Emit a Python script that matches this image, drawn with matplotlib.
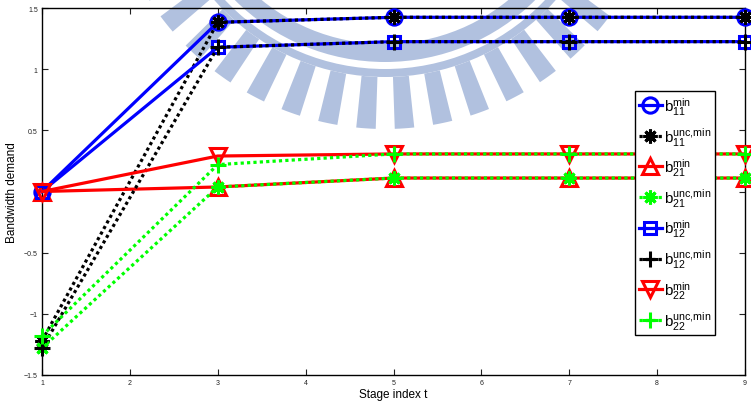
import matplotlib
matplotlib.use("Agg")
import matplotlib.pyplot as plt
from matplotlib.patches import Wedge

plt.rcParams['font.family'] = ['Liberation Sans', 'DejaVu Sans']
plt.rcParams['mathtext.default'] = 'regular'

# stage index
t = [1, 3, 5, 7, 9]

# bandwidth demand per series
b11_min = [0.0, 1.383, 1.424, 1.424, 1.424]
b11_unc = [-1.22, 1.383, 1.424, 1.424, 1.424]
b21_min = [0.0, 0.037, 0.11, 0.11, 0.11]
b21_unc = [-1.28, 0.037, 0.11, 0.11, 0.11]
b12_min = [0.0, 1.179, 1.225, 1.225, 1.225]
b12_unc = [-1.28, 1.179, 1.225, 1.225, 1.225]
b22_min = [0.0, 0.29, 0.307, 0.307, 0.307]
b22_unc = [-1.18, 0.22, 0.307, 0.307, 0.307]

labels = [r'$b_{11}^{min}$', r'$b_{11}^{unc{,}min}$', r'$b_{21}^{min}$', r'$b_{21}^{unc{,}min}$',
          r'$b_{12}^{min}$', r'$b_{12}^{unc{,}min}$', r'$b_{22}^{min}$', r'$b_{22}^{unc{,}min}$']

fig = plt.figure(figsize=(7.51, 4.06), dpi=100)

# faint logo watermark behind the plot
bg = fig.add_axes([0, 0, 1, 1], zorder=0)
bg.set_xlim(0, 751)
bg.set_ylim(0, 406)
bg.axis('off')
wm = '#b1c1df'
c = (385, 556)
bg.add_patch(Wedge(c, 213, 180, 360, width=18, color=wm, lw=0))
bg.add_patch(Wedge(c, 228, 180, 360, width=8, color=wm, lw=0))
a = 274 - 7.9 * 12
while a < 360:
    bg.add_patch(Wedge(c, 280, a - 2.0, a + 2.0, width=52, color=wm, lw=0))
    a += 7.9

ax = fig.add_axes([42 / 751, 30 / 406, 703 / 751, 367 / 406], zorder=1)
ax.set_facecolor('none')

lw = 2.3
series = [
    (b11_min, dict(color='#0000ff', ls='-', marker='o', mfc='none', ms=11)),
    (b11_unc, dict(color='black', ls=':', marker=(8, 2, 0), ms=10)),
    (b21_min, dict(color='#ff0000', ls='-', marker='^', mfc='none', ms=12)),
    (b21_unc, dict(color='#00ff00', ls=':', marker=(8, 2, 0), ms=10)),
    (b12_min, dict(color='#0000ff', ls='-', marker='s', mfc='none', ms=8.5)),
    (b12_unc, dict(color='black', ls=':', marker='+', ms=11)),
    (b22_min, dict(color='#ff0000', ls='-', marker='v', mfc='none', ms=12)),
    (b22_unc, dict(color='#00ff00', ls=':', marker='+', ms=11)),
]
for (vals, kw), lab in zip(series, labels):
    line, = ax.plot(t, vals, lw=lw, mew=2.2, label=lab, clip_on=False, zorder=3, **kw)
    if kw['ls'] == ':':
        line.set_dashes([1, 1])
        line.set_dash_capstyle('butt')

ax.set_xlim(1, 9)
ax.set_ylim(-1.5, 1.5)
ax.set_xticks(range(1, 10))
ax.set_yticks([-1.5, -1, -0.5, 0, 0.5, 1, 1.5])
ax.set_yticklabels(['\u22121.5', '\u22121', '\u22120.5', '0', '0.5', '1', '1.5'])
ax.tick_params(direction='in', length=4, width=0.8, top=True, right=True,
               labelsize=5, colors='#222222', pad=3)
for s in ax.spines.values():
    s.set_linewidth(1.0)

ax.set_xlabel('Stage index t', fontsize=8.5, labelpad=1)
ax.set_ylabel('Bandwidth demand', fontsize=8.5, labelpad=4)

leg = ax.legend(loc='upper left', bbox_to_anchor=(593 / 703, 284 / 367),
                fancybox=False, framealpha=1, edgecolor='black', fontsize=11,
                handlelength=1.5, handletextpad=0.15, labelspacing=0.55,
                borderpad=0.25, borderaxespad=0)
leg.get_frame().set_linewidth(1.0)

fig.savefig('out.png', dpi=100)
